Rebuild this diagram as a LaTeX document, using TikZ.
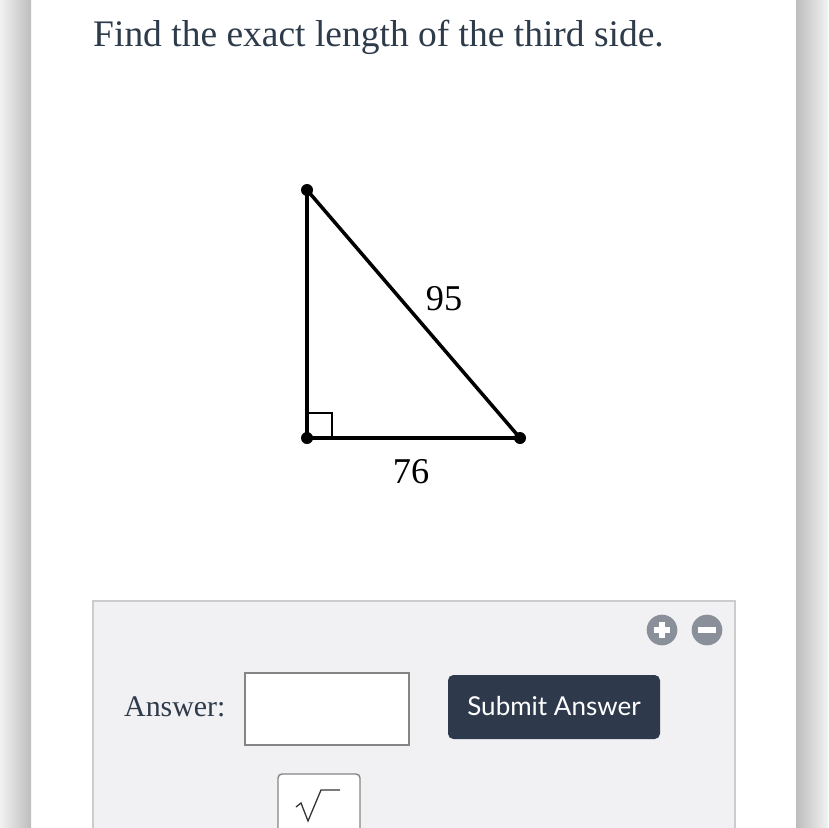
\documentclass[tikz,border=0pt]{standalone}
\usepackage{fontspec}
\setmainfont{Liberation Serif}
\newfontfamily\latofont{Lato}
\usepackage{xcolor}
\usetikzlibrary{positioning,calc}

\definecolor{inkslate}{HTML}{2D3B4A}
\definecolor{panelgray}{HTML}{F1F1F3}
\definecolor{panelline}{HTML}{CCCCCC}
\definecolor{boxline}{HTML}{858585}
\definecolor{btnfill}{HTML}{2E3A4B}
\definecolor{icongray}{HTML}{8A9099}
\definecolor{bandlight}{HTML}{F2F2F2}
\definecolor{banddark}{HTML}{BDBDBD}

\tikzset{
    side/.style={line width=3pt, line cap=round, line join=round},
    vertex/.style={circle, fill=black, inner sep=0pt, minimum size=3.6mm},
    sidelabel/.style={font=\fontsize{31}{31}\selectfont, inner sep=0pt, anchor=base},
    roundicon/.style={circle, fill=icongray, inner sep=0pt, minimum size=9.2mm}
}

\begin{document}
\begin{tikzpicture}[x=0.3mm,y=-0.3mm]
    \useasboundingbox (0,0) rectangle (828,828);
    \fill[white] (0,0) rectangle (828,828);

    % page edges
    \shade[left color=bandlight, right color=banddark] (0,0) rectangle (31,828);
    \shade[left color=banddark, right color=bandlight] (796,0) rectangle (828,828);

    % Question
    \node[anchor=base west, inner sep=0pt, text=inkslate,
          font=\fontsize{32}{32}\selectfont] (title) at (93,47)
          {Find the exact length of the third side.};

    % Triangle
    \coordinate (top) at (307,190);
    \coordinate (corner) at (307,438);
    \coordinate (right) at (520,438);
    \draw[side] (top) -- (corner) -- (right) -- cycle;
    \draw[line width=2.2pt] ($(corner)+(0,-25)$) -- ++(25,0) -- ++(0,25);
    \node[vertex] (vtop) at (top) {};
    \node[vertex] (vcorner) at (corner) {};
    \node[vertex] (vright) at (right) {};

    \node[sidelabel] (hyp) at (444,310) {95};
    \node[sidelabel] (base) at (411,483) {76};

    % Answer panel
    \draw[fill=panelgray, draw=panelline, line width=1.6pt] (93,830) |- (735,601) -- (735,830);

    % plus / minus
    \node[roundicon] (plus) at (662,630) {};
    \node[roundicon] (minus) at (707,630) {};
    \draw[white, line width=4.4pt] ($(plus)+(-8,0)$) -- ($(plus)+(8,0)$);
    \draw[white, line width=4.4pt] ($(plus)+(0,-8)$) -- ($(plus)+(0,8)$);
    \draw[white, line width=4.4pt] ($(minus)+(-9,0)$) -- ($(minus)+(9,0)$);

    \node[anchor=base west, inner sep=0pt, text=inkslate,
          font=\fontsize{25.5}{26}\selectfont] (answer) at (124,716) {Answer:};
    \draw[fill=white, draw=boxline, line width=1.5pt] (245,673) rectangle (409,745);

    % Submit button
    \fill[btnfill, rounded corners=1.6mm] (448,675) rectangle (660,739);
    \node[anchor=base, inner sep=0pt, text=white,
          font=\latofont\fontsize{22.2}{22}\selectfont] (submit) at (554,715) {Submit Answer};

    % sqrt button
    \draw[fill=white, draw=boxline, line width=1.2pt, rounded corners=1.2mm]
        (278,830) -- (278,774) -- (360,774) -- (360,830);
    \draw[black!80, line width=1.1pt, line join=miter] (296,807) -- (301,803) -- (308,821) -- (321,790) -- (340,790);
\end{tikzpicture}
\end{document}
